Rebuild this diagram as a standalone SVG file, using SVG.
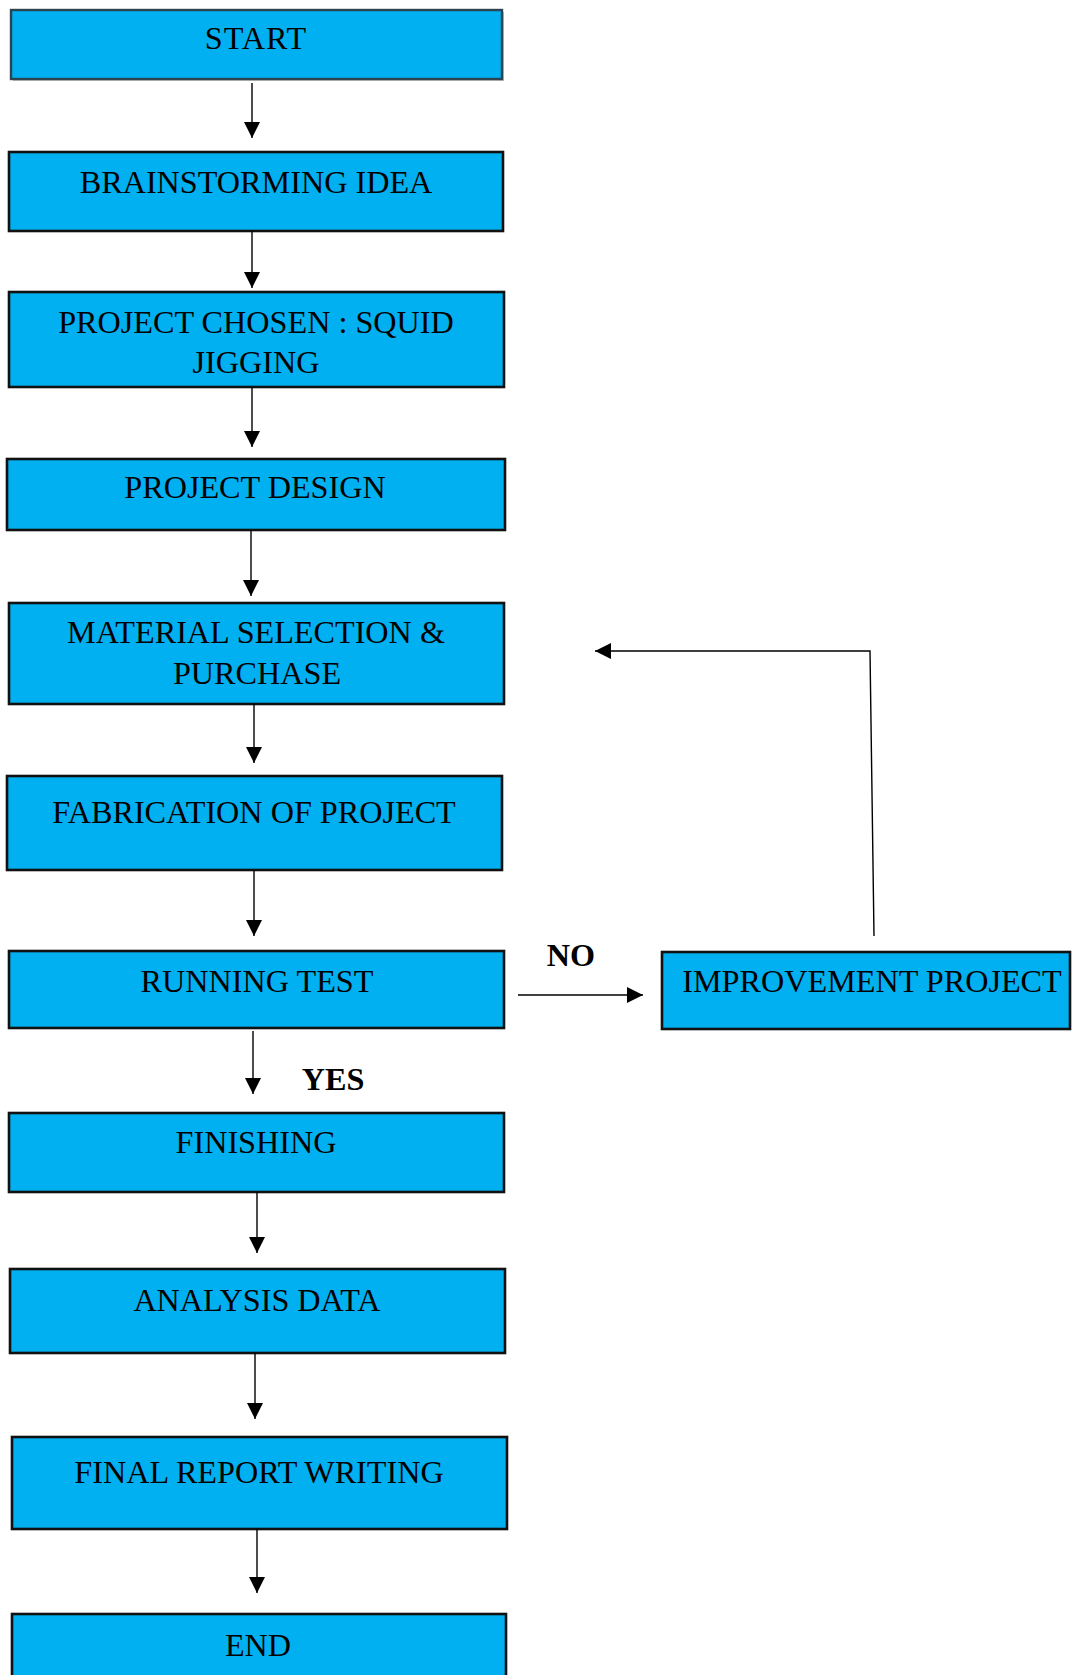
<svg xmlns="http://www.w3.org/2000/svg" width="1072" height="1675" viewBox="0 0 1072 1675">
  <style>
    .box { fill: #00B0F0; stroke: #111; stroke-width: 2.6; }
    .lbl { font-family: "Liberation Serif", "Times New Roman", serif; font-size: 32.2px; fill: #000; text-anchor: middle; }
    .bold { font-weight: bold; }
    .conn { stroke: #000; stroke-width: 1.4; fill: none; marker-end: url(#arrow); }
  </style>
  <defs>
    <marker id="arrow" markerUnits="userSpaceOnUse" markerWidth="17" markerHeight="17" refX="16" refY="8" orient="auto">
      <path d="M0,0 L16,8 L0,16 Z" fill="#000"/>
    </marker>
  </defs>
  <rect width="1072" height="1675" fill="#fff"/>

  <g id="start">
    <rect x="13" y="12" width="491" height="69" fill="#999" opacity="0.6"/>
    <rect x="11" y="10" width="491" height="69" fill="#00B0F0" stroke="#2b4450" stroke-width="2.4"/>
    <text class="lbl" x="256" y="49" fill="#1a2a33" letter-spacing="1">START</text>
  </g>
  <g id="brainstorming">
    <rect class="box" x="9" y="152" width="494" height="79"/>
    <text class="lbl" x="256" y="193">BRAINSTORMING IDEA</text>
  </g>
  <g id="project-chosen">
    <rect class="box" x="9" y="292" width="495" height="95"/>
    <text class="lbl" x="256" y="333">PROJECT CHOSEN : SQUID</text>
    <text class="lbl" x="256" y="373">JIGGING</text>
  </g>
  <g id="project-design">
    <rect class="box" x="7" y="459" width="498" height="71"/>
    <text class="lbl" x="255" y="498">PROJECT DESIGN</text>
  </g>
  <g id="material">
    <rect class="box" x="9" y="603" width="495" height="101"/>
    <text class="lbl" x="256" y="643">MATERIAL SELECTION &amp;</text>
    <text class="lbl" x="257" y="684">PURCHASE</text>
  </g>
  <g id="fabrication">
    <rect class="box" x="7" y="776" width="495" height="94"/>
    <text class="lbl" x="254" y="823">FABRICATION OF PROJECT</text>
  </g>
  <g id="running-test">
    <rect class="box" x="9" y="951" width="495" height="77"/>
    <text class="lbl" x="257" y="992">RUNNING TEST</text>
  </g>
  <g id="finishing">
    <rect class="box" x="9" y="1113" width="495" height="79"/>
    <text class="lbl" x="256" y="1153">FINISHING</text>
  </g>
  <g id="analysis">
    <rect class="box" x="10" y="1269" width="495" height="84"/>
    <text class="lbl" x="257" y="1311">ANALYSIS DATA</text>
  </g>
  <g id="final-report">
    <rect class="box" x="12" y="1437" width="495" height="92"/>
    <text class="lbl" x="259" y="1483">FINAL REPORT WRITING</text>
  </g>
  <g id="end">
    <rect class="box" x="12" y="1614" width="494" height="80"/>
    <text class="lbl" x="258" y="1656">END</text>
  </g>
  <g id="improvement">
    <rect class="box" x="662" y="952" width="408" height="77"/>
    <text class="lbl" x="872" y="992">IMPROVEMENT PROJECT</text>
  </g>

  <g id="connectors">
    <line class="conn" x1="252" y1="83" x2="252" y2="138"/>
    <line class="conn" x1="252" y1="231" x2="252" y2="288"/>
    <line class="conn" x1="252" y1="387" x2="252" y2="447"/>
    <line class="conn" x1="251" y1="530" x2="251" y2="596"/>
    <line class="conn" x1="254" y1="704" x2="254" y2="763"/>
    <line class="conn" x1="254" y1="870" x2="254" y2="936"/>
    <line class="conn" x1="253" y1="1031" x2="253" y2="1094"/>
    <line class="conn" x1="257" y1="1192" x2="257" y2="1253"/>
    <line class="conn" x1="255" y1="1353" x2="255" y2="1419"/>
    <line class="conn" x1="257" y1="1529" x2="257" y2="1593"/>
    <line class="conn" x1="518" y1="995" x2="643" y2="995"/>
    <polyline class="conn" points="874,936 870,651 595,651"/>
    <text class="lbl bold" x="571" y="966">NO</text>
    <text class="lbl bold" x="333" y="1090">YES</text>
  </g>
</svg>
